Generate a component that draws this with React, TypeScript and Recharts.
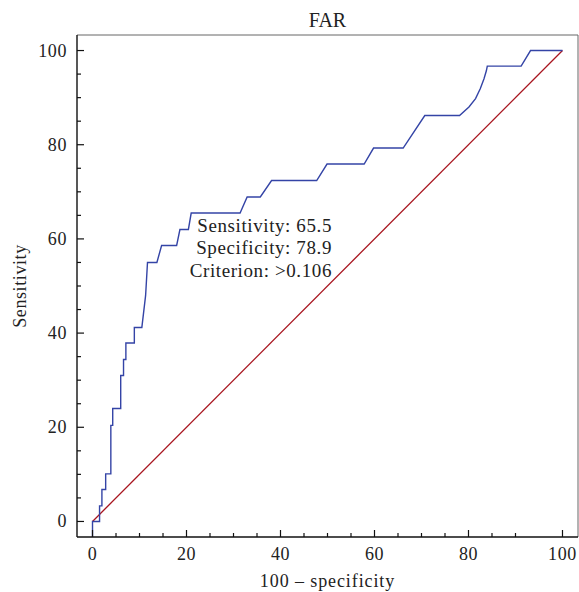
import { LineChart, Line, XAxis, YAxis, ReferenceLine, Customized } from 'recharts';

// ROC curve (100 - specificity, sensitivity)
const fprValues = [
  0, 0, 1.5, 1.5, 2.0, 2.0, 2.8, 2.8, 3.9, 3.9, 4.3, 4.3, 6.0, 6.0, 6.6, 6.6, 7.1, 7.1,
  8.9, 8.9, 10.5, 11.3, 11.7, 13.7, 14.7, 17.9, 18.6, 20.4, 21.0, 31.4, 32.9, 35.7, 38.1,
  47.7, 49.9, 57.8, 59.8, 66.1, 70.7, 78.1, 80.1, 81.5, 82.5, 83.3, 83.8, 84.0, 91.2, 93.2, 100,
];
const sensValues = [
  -3.3, 0, 0, 3.3, 3.3, 6.8, 6.8, 10.1, 10.1, 20.4, 20.4, 24.0, 24.0, 31.0, 31.0, 34.4, 34.4, 37.9,
  37.9, 41.2, 41.2, 48.0, 55.0, 55.0, 58.6, 58.6, 62.0, 62.0, 65.5, 65.5, 68.9, 68.9, 72.4,
  72.4, 75.9, 75.9, 79.3, 79.3, 86.2, 86.2, 88.0, 89.8, 91.9, 94.0, 95.7, 96.7, 96.7, 100, 100,
];
const diagX = [0, 100];
const diagY = [0, 100];

const tickValues = [0, 5, 10, 15, 20, 25, 30, 35, 40, 45, 50, 55, 60, 65, 70, 75, 80, 85, 90, 95, 100];
const annotationLines = ['Sensitivity: 65.5', 'Specificity: 78.9', 'Criterion: >0.106'];

const rocData = fprValues.map((x, i) => ({ x, y: sensValues[i] }));
const diagData = diagX.map((x, i) => ({ x, y: diagY[i] }));

const FONT = '"Liberation Serif", "Times New Roman", serif';
const DOMAIN: [number, number] = [-3.3, 103.3];

const XTick = (props: any) => {
  const { x, y, payload } = props;
  const major = payload.value % 20 === 0;
  return (
    <g>
      <line x1={x} y1={y} x2={x} y2={y - (major ? 7 : 4)} stroke="#111" strokeWidth={1.2} />
      {major && (
        <text x={x} y={y + 23.4} textAnchor="middle" fontFamily={FONT} fontSize={18} letterSpacing={0.6} fill="#222">
          {payload.value}
        </text>
      )}
    </g>
  );
};

const YTick = (props: any) => {
  const { x, y, payload } = props;
  const major = payload.value % 20 === 0;
  return (
    <g>
      <line x1={x} y1={y} x2={x + (major ? 7 : 4)} y2={y} stroke="#111" strokeWidth={1.2} />
      {major && (
        <text x={x - 10} y={y + 6} textAnchor="end" fontFamily={FONT} fontSize={18} letterSpacing={0.6} fill="#222">
          {payload.value}
        </text>
      )}
    </g>
  );
};

const Labels = () => (
  <g fontFamily={FONT} fill="#222">
    <text x={327.5} y={26.7} textAnchor="middle" fontSize={20}>FAR</text>
    <text x={327.5} y={587} textAnchor="middle" fontSize={18} letterSpacing={0.9}>100 – specificity</text>
    <text x={26} y={286} textAnchor="middle" fontSize={18} letterSpacing={0.6} transform="rotate(-90 26 286)">
      Sensitivity
    </text>
    {annotationLines.map((t, i) => (
      <text key={t} x={332} y={231.7 + i * 22.5} textAnchor="end" fontSize={19} letterSpacing={0.6}>
        {t}
      </text>
    ))}
  </g>
);

export default function App() {
  return (
    <div style={{ position: 'absolute', left: 0, top: 0, background: '#fff' }}>
      <LineChart width={579} height={592} margin={{ top: 35, right: 1, left: 0, bottom: 0 }}>
        <XAxis
          type="number"
          dataKey="x"
          domain={DOMAIN}
          ticks={tickValues}
          allowDataOverflow
          height={55}
          tickSize={0}
          tickMargin={0}
          tickLine={false}
          tick={XTick}
          axisLine={{ stroke: '#111', strokeWidth: 1.4 }}
        />
        <YAxis
          type="number"
          dataKey="y"
          domain={DOMAIN}
          ticks={tickValues}
          allowDataOverflow
          width={77}
          tickSize={0}
          tickMargin={0}
          tickLine={false}
          tick={YTick}
          axisLine={{ stroke: '#111', strokeWidth: 1.4 }}
        />
        <ReferenceLine y={103.3} stroke="#666" strokeWidth={1} />
        <ReferenceLine x={103.3} stroke="#666" strokeWidth={1} />
        <Line data={diagData} dataKey="y" type="linear" stroke="#a8141e" strokeWidth={1.3} dot={false} isAnimationActive={false} />
        <Line data={rocData} dataKey="y" type="linear" stroke="#3444a6" strokeWidth={1.4} dot={false} isAnimationActive={false} />
        <Customized component={Labels} />
      </LineChart>
    </div>
  );
}
